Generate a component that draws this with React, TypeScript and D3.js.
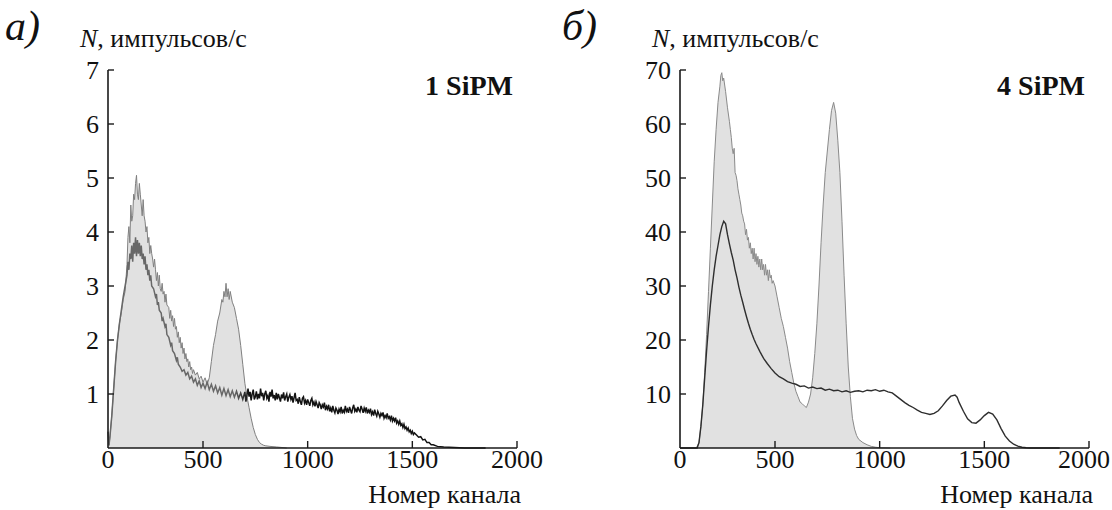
import React from "react";
import * as d3 from "d3";

// ---------- DATA ----------
const panelTags = ["а)", "б)"];
const detectorNames = ["1 SiPM", "4 SiPM"];
const yAxisTitle = ", импульсов/с";
const xAxisTitle = "Номер канала";
const xTickValues = [0, 500, 1000, 1500, 2000];
const yTicksLeft = [1, 2, 3, 4, 5, 6, 7];
const yTicksRight = [10, 20, 30, 40, 50, 60, 70];
const yMaxes = [7, 70];

// 1 SiPM – filled spectrum [channel, counts/s]
const leftFilled: [number, number][] = [
  [0, 0.3], [5, 0.05], [10, 0.2], [20, 0.6], [30, 1.1], [40, 1.6], [50, 2.0], [60, 2.3], [70, 2.5],
  [80, 2.75], [90, 2.9], [100, 3.4], [105, 3.9], [110, 4.1], [115, 3.8], [120, 4.5], [125, 4.2], [130, 4.3], [135, 4.7], [140, 4.6], [145, 4.9], [150, 5.05],
  [155, 4.7], [160, 4.6], [165, 4.9], [170, 4.7], [175, 4.5], [180, 4.3], [185, 4.6], [190, 4.3], [195, 4.2], [200, 4.0], [205, 4.1], [210, 3.8], [215, 3.9], [220, 3.6], [225, 3.75], [230, 3.6],
  [235, 3.5], [240, 3.35], [245, 3.5], [250, 3.3], [255, 3.1], [260, 3.25], [265, 3.0], [270, 3.2], [275, 2.95], [280, 2.9], [285, 3.05], [290, 2.85], [295, 2.9], [300, 2.7], [305, 2.85], [310, 2.65],
  [320, 2.6], [325, 2.4], [330, 2.55], [335, 2.35], [340, 2.45], [345, 2.25], [350, 2.4], [355, 2.2], [360, 2.25], [365, 2.05], [370, 2.15], [375, 1.95], [380, 2.05], [385, 1.85], [390, 1.95],
  [395, 1.75], [400, 1.85], [405, 1.65], [410, 1.75], [415, 1.6], [420, 1.65], [425, 1.5], [430, 1.6], [435, 1.45], [440, 1.5], [445, 1.38], [450, 1.45], [460, 1.35], [470, 1.4],
  [480, 1.28], [490, 1.33], [500, 1.22], [510, 1.3], [520, 1.18], [530, 1.3], [540, 1.6], [550, 1.9],
  [560, 2.1], [570, 2.35], [580, 2.5], [590, 2.75], [595, 2.7], [600, 2.9], [605, 2.8], [610, 3.05], [615, 2.8], [620, 2.95], [625, 2.75], [630, 2.9],
  [640, 2.7], [650, 2.6], [660, 2.4], [670, 2.2], [680, 1.9], [690, 1.55], [700, 1.2], [710, 0.95],
  [720, 0.75], [730, 0.55], [740, 0.38], [750, 0.25], [760, 0.16], [770, 0.1], [780, 0.07],
  [790, 0.05], [800, 0.04], [820, 0.03], [850, 0.02], [900, 0.0],
];

// 1 SiPM – dark spectrum with long tail
const leftDark: [number, number][] = [
  [0, 0.3], [5, 0.05], [10, 0.2], [20, 0.6], [30, 1.1], [40, 1.6], [50, 2.0], [60, 2.3], [70, 2.55],
  [80, 2.8], [90, 3.0], [100, 3.2], [105, 3.45], [110, 3.3], [115, 3.6], [120, 3.5], [125, 3.75], [130, 3.45], [135, 3.8], [140, 3.6], [145, 3.9], [150, 3.55],
  [155, 3.85], [160, 3.6], [165, 3.8], [170, 3.55], [175, 3.75], [180, 3.5], [185, 3.6], [190, 3.4], [195, 3.55], [200, 3.3], [205, 3.4], [210, 3.2], [215, 3.3], [220, 3.1], [225, 3.2], [230, 3.0],
  [240, 2.95], [250, 2.8], [255, 2.85], [260, 2.65], [265, 2.7], [270, 2.55], [280, 2.5], [285, 2.35], [290, 2.4], [300, 2.25], [305, 2.3], [310, 2.1],
  [320, 2.05], [330, 1.9], [335, 1.95], [340, 1.8], [350, 1.75], [360, 1.62], [365, 1.68], [370, 1.55], [380, 1.5], [390, 1.42],
  [400, 1.45], [410, 1.35], [420, 1.4], [430, 1.28], [440, 1.33], [450, 1.22], [460, 1.28], [470, 1.16],
  [480, 1.24], [490, 1.12], [500, 1.2], [510, 1.1], [520, 1.22], [530, 1.08], [540, 1.18], [550, 1.05],
  [560, 1.15], [570, 1.02], [580, 1.12], [590, 0.98], [600, 1.1], [610, 0.97], [620, 1.08], [630, 0.95],
  [640, 1.06], [650, 0.94], [660, 1.05], [670, 0.92], [680, 1.02], [690, 0.9], [700, 1.04], [705, 0.86], [710, 0.98],
  [715, 1.1], [720, 0.95], [725, 1.04], [730, 0.88], [735, 1.0], [740, 1.08], [745, 0.9], [750, 0.95], [755, 1.05], [760, 0.9], [765, 1.0], [770, 0.92], [775, 1.1], [780, 0.96], [785, 1.02], [790, 0.88],
  [795, 1.0], [800, 1.06], [805, 0.92], [810, 0.97], [815, 0.86], [820, 1.04], [825, 0.95], [830, 1.08], [835, 0.92], [840, 0.98], [845, 0.88], [850, 1.02], [855, 0.9], [860, 1.0], [865, 0.93], [870, 0.86],
  [875, 0.99], [880, 0.92], [885, 1.03], [890, 0.88], [895, 0.95], [900, 1.0], [905, 0.86], [910, 0.94], [915, 0.99], [920, 0.9], [925, 0.96], [930, 0.84], [935, 0.93], [940, 1.02], [945, 0.88], [950, 0.9],
  [955, 0.82], [960, 0.94], [965, 0.86], [970, 0.8], [975, 0.92], [980, 0.95], [985, 0.83], [990, 0.88], [995, 0.8], [1000, 0.9], [1005, 0.84], [1010, 0.78], [1015, 0.88], [1020, 0.92],
  [1025, 0.8], [1030, 0.85], [1035, 0.77], [1040, 0.86], [1045, 0.8], [1050, 0.74], [1055, 0.84], [1060, 0.8], [1065, 0.72], [1070, 0.8], [1075, 0.76], [1080, 0.84], [1085, 0.7], [1090, 0.77],
  [1095, 0.72], [1100, 0.8], [1105, 0.68], [1110, 0.74], [1115, 0.66], [1120, 0.78], [1125, 0.7], [1130, 0.65], [1135, 0.74], [1140, 0.7], [1145, 0.63], [1150, 0.72], [1155, 0.67], [1160, 0.76],
  [1165, 0.64], [1170, 0.7], [1175, 0.66], [1180, 0.78], [1185, 0.68], [1190, 0.72], [1195, 0.65], [1200, 0.76], [1205, 0.7], [1210, 0.64], [1215, 0.74], [1220, 0.8], [1225, 0.68], [1230, 0.72],
  [1235, 0.66], [1240, 0.76], [1245, 0.7], [1250, 0.67], [1255, 0.78], [1260, 0.72], [1265, 0.65], [1270, 0.74], [1275, 0.68], [1280, 0.75], [1285, 0.64], [1290, 0.7], [1295, 0.66], [1300, 0.73],
  [1305, 0.62], [1310, 0.67], [1315, 0.6], [1320, 0.71], [1325, 0.64], [1330, 0.59], [1335, 0.68], [1340, 0.63], [1345, 0.57], [1350, 0.64], [1355, 0.6], [1360, 0.66], [1365, 0.55], [1370, 0.6],
  [1375, 0.56], [1380, 0.64], [1385, 0.55], [1390, 0.58], [1395, 0.52], [1400, 0.6], [1405, 0.5], [1410, 0.55], [1415, 0.5], [1420, 0.56], [1425, 0.46], [1430, 0.5], [1435, 0.44], [1440, 0.5],
  [1445, 0.42], [1450, 0.45], [1455, 0.38], [1460, 0.44], [1465, 0.36], [1470, 0.39], [1475, 0.33], [1480, 0.37], [1485, 0.3], [1490, 0.33], [1495, 0.27], [1500, 0.31], [1505, 0.25], [1510, 0.28],
  [1520, 0.24], [1530, 0.2], [1540, 0.21], [1550, 0.15], [1560, 0.16], [1570, 0.1], [1580, 0.1],
  [1590, 0.06], [1600, 0.06], [1620, 0.03], [1650, 0.02], [1700, 0.01], [1750, 0.0], [1850, 0.0],
];

// 4 SiPM – filled spectrum
const rightFilled: [number, number][] = [
  [0, 0], [80, 0], [90, 0.2], [100, 1], [110, 4], [120, 8], [130, 14], [140, 21], [150, 29], [160, 37],
  [170, 45], [180, 53], [190, 59], [200, 64], [210, 67], [215, 69], [220, 69.5], [225, 68], [230, 68.5], [240, 66], [250, 63],
  [260, 60.5], [265, 59], [270, 57.5], [275, 55.5], [280, 54.5], [285, 55.5], [290, 51], [295, 50.5], [300, 49.5], [305, 48], [310, 47], [315, 46], [320, 45], [325, 43.5], [330, 43],
  [335, 42], [340, 41.5], [345, 39.5], [350, 40.5], [355, 38.5], [360, 39], [365, 37], [370, 38], [375, 36], [380, 37], [385, 35], [390, 37], [395, 34.5], [400, 36], [405, 34], [410, 35.5],
  [415, 33.5], [420, 35], [425, 33], [430, 35], [435, 33], [440, 34], [445, 32], [450, 34], [455, 32], [460, 33], [465, 31], [470, 33], [475, 31.5], [480, 32], [485, 30.5], [490, 31],
  [500, 30], [510, 28], [520, 26], [530, 24], [540, 22.5], [550, 20.5], [560, 18.5], [570, 16],
  [580, 14], [590, 12], [600, 10.5], [610, 9.5], [620, 8.5], [630, 8.2], [640, 7.8], [650, 7.5],
  [660, 8.5], [670, 10], [680, 13], [690, 17.5], [700, 23], [710, 30], [720, 38], [730, 45],
  [740, 51], [750, 55], [760, 59], [770, 62.5], [780, 64], [790, 62], [800, 57], [810, 51], [820, 42],
  [830, 32], [840, 23], [850, 15], [860, 9.5], [870, 5.5], [880, 3.5], [890, 2.3], [900, 1.6],
  [920, 1.0], [940, 0.6], [960, 0.3], [980, 0.15], [1000, 0.05], [1050, 0],
];

// 4 SiPM – dark spectrum
const rightDark: [number, number][] = [
  [0, 0], [90, 0], [100, 1], [110, 4], [120, 8], [130, 13], [140, 18], [150, 22.5], [160, 26.5],
  [170, 30], [180, 33], [190, 35.5], [200, 37.5], [210, 39.5], [220, 41], [230, 42], [240, 41.5],
  [250, 39.5], [260, 37.8], [270, 36.2], [280, 34.8], [290, 33], [300, 31.5], [310, 29.8], [320, 28.3],
  [330, 27], [340, 25.6], [350, 24.3], [360, 23.1], [370, 22], [380, 21], [390, 20.1], [400, 19.3],
  [420, 17.9], [440, 16.6], [460, 15.6], [480, 14.7], [500, 13.9], [520, 13.2], [540, 12.8],
  [560, 12.3], [580, 12.0], [600, 11.8], [620, 11.4], [640, 11.5], [660, 11.1], [680, 11.3],
  [700, 11.0], [720, 11.1], [740, 10.7], [760, 10.9], [780, 10.6], [800, 10.7], [820, 10.4],
  [840, 10.6], [860, 10.3], [880, 10.5], [900, 10.6], [920, 10.4], [940, 10.7], [960, 10.6],
  [980, 10.8], [1000, 10.5], [1020, 10.7], [1040, 10.4], [1060, 10.2], [1080, 9.6], [1100, 9.0],
  [1120, 8.4], [1140, 7.9], [1160, 7.5], [1180, 7.0], [1200, 6.6], [1220, 6.4], [1240, 6.2],
  [1260, 6.4], [1280, 6.9], [1300, 7.8], [1320, 8.8], [1340, 9.6], [1360, 9.8], [1370, 9.4],
  [1380, 8.4], [1400, 6.8], [1420, 5.4], [1440, 4.7], [1460, 4.6], [1480, 5.2], [1500, 6.0],
  [1520, 6.6], [1540, 6.3], [1560, 5.2], [1580, 3.6], [1600, 2.2], [1620, 1.3], [1640, 0.7],
  [1660, 0.35], [1680, 0.15], [1700, 0.05], [1720, 0], [1860, 0],
];

const filledSeries = [leftFilled, rightFilled];
const darkSeries = [leftDark, rightDark];
const yTickSets = [yTicksLeft, yTicksRight];

// ---------- LAYOUT ----------
const W = 1112;
const H = 510;
const FONT = "Liberation Serif, DejaVu Serif, serif";
const panelX = [
  [108, 203, 517],
  [680, 775, 1089],
];
const tagX = [5, 562];
const yBottom = 448;
const yTop = 70;

const textStyle = { fontFamily: FONT };

function Panel({ i }: { i: number }) {
  const [x0, x500, x2000] = panelX[i];
  const x = d3.scaleLinear().domain([0, 500, 2000]).range([x0, x500, x2000]);
  const y = d3.scaleLinear().domain([0, yMaxes[i]]).range([yBottom, yTop]);

  const area = d3
    .area<[number, number]>()
    .x((d) => x(d[0]))
    .y0(y(0))
    .y1((d) => y(d[1]));
  const line = d3
    .line<[number, number]>()
    .x((d) => x(d[0]))
    .y((d) => y(d[1]));

  const gradId = `darkGrad${i}`;
  const darkStroke = i === 0 ? `url(#${gradId})` : "#2e2e2e";
  const tickFont = 26;

  return (
    <g>
      <defs>
        <linearGradient
          id={gradId}
          gradientUnits="userSpaceOnUse"
          x1={x(650)}
          x2={x(720)}
          y1={0}
          y2={0}
        >
          <stop offset="0" stopColor="#686868" />
          <stop offset="1" stopColor="#121212" />
        </linearGradient>
      </defs>
      <path d={area(filledSeries[i]) || ""} fill="#e1e1e1" stroke="none" />
      <path
        d={line(filledSeries[i]) || ""}
        fill="none"
        stroke={i === 0 ? "#808080" : "#8a8a8a"}
        strokeWidth={1}
      />
      <path
        d={line(darkSeries[i]) || ""}
        fill="none"
        stroke={darkStroke}
        strokeWidth={i === 0 ? 1.5 : 1.4}
      />

      {/* axes */}
      <line x1={x0} x2={x0} y1={yBottom} y2={y(yMaxes[i])} stroke="#1a1a1a" strokeWidth={1.6} />
      <line x1={x0} x2={x(2000)} y1={yBottom} y2={yBottom} stroke="#1a1a1a" strokeWidth={1.6} />
      {yTickSets[i].map((t) => (
        <g key={t}>
          <line x1={x0} x2={x0 + 6} y1={y(t)} y2={y(t)} stroke="#1a1a1a" strokeWidth={1.4} />
          <text
            x={x0 - 9}
            y={y(t)}
            dy="0.35em"
            textAnchor="end"
            style={textStyle}
            fontSize={tickFont}
            fill="#111"
          >
            {t}
          </text>
        </g>
      ))}
      {xTickValues.map((t) => {
        const tx = Math.min(x(t), W - 2 - tickFont);
        return (
          <g key={t}>
            {t > 0 && (
              <line x1={x(t)} x2={x(t)} y1={yBottom} y2={yBottom - 7} stroke="#1a1a1a" strokeWidth={1.4} />
            )}
            <text
              x={tx}
              y={468}
              textAnchor="middle"
              style={textStyle}
              fontSize={tickFont}
              fill="#111"
            >
              {t}
            </text>
          </g>
        );
      })}
      <text
        x={Math.min(x(2000) + 4, W - 4)}
        y={503}
        textAnchor="end"
        style={textStyle}
        fontSize={26}
        fill="#111"
      >
        {xAxisTitle}
      </text>

      {/* labels */}
      <text
        x={tagX[i]}
        y={40}
        style={textStyle}
        fontStyle="italic"
        fontSize={42}
        fill="#111"
      >
        {panelTags[i]}
      </text>
      <text x={x0 - 28} y={47} style={textStyle} fontSize={26} fill="#111">
        <tspan fontStyle="italic">N</tspan>
        {yAxisTitle}
      </text>
      <text
        x={x(2000) - 4}
        y={95}
        textAnchor="end"
        style={textStyle}
        fontWeight="bold"
        fontSize={28}
        fill="#111"
      >
        {detectorNames[i]}
      </text>
    </g>
  );
}

export default function App() {
  return (
    <svg
      width={W}
      height={H}
      viewBox={`0 0 ${W} ${H}`}
      style={{ position: "absolute", left: 0, top: 0, background: "#fff" }}
    >
      <rect x={0} y={0} width={W} height={H} fill="#fff" />
      <Panel i={0} />
      <Panel i={1} />
    </svg>
  );
}
